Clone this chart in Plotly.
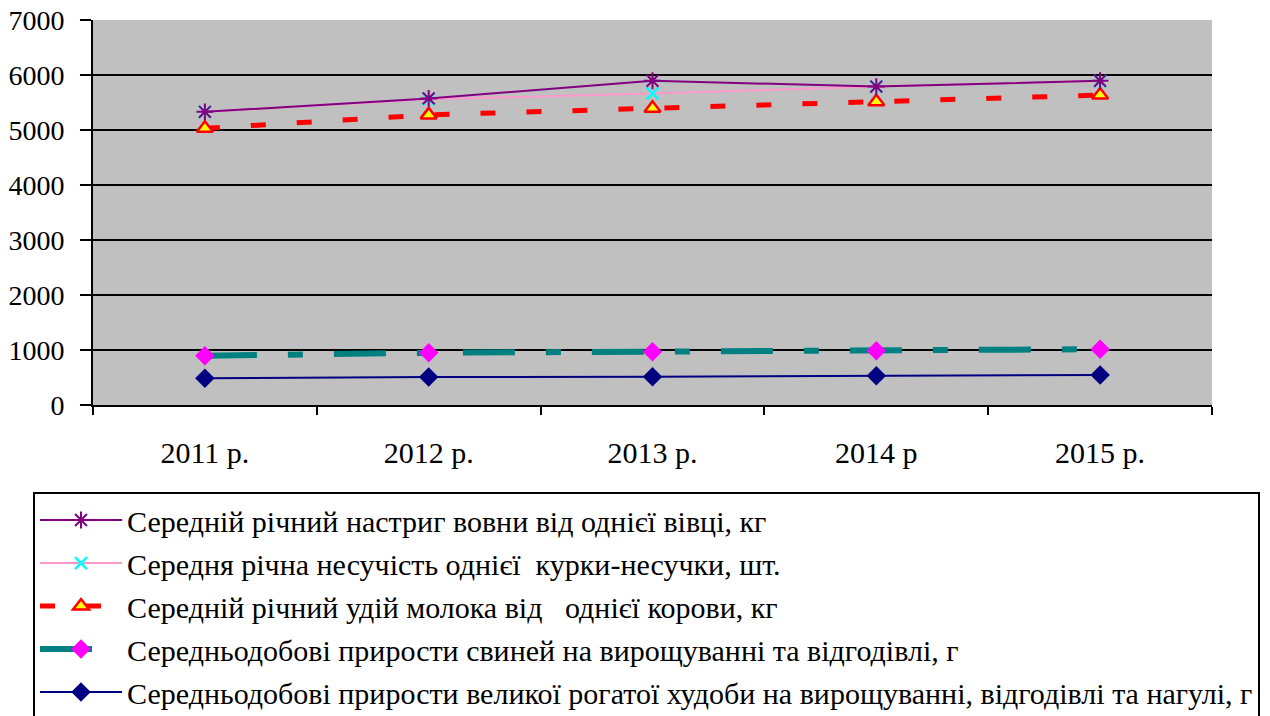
import plotly.graph_objects as go

years = ["2011 р.", "2012 р.", "2013 р.", "2014 р", "2015 р."]

wool = [5330, 5575, 5895, 5790, 5895]
eggs = [5330, 5560, 5665, 5790, 5890]
milk = [5030, 5275, 5395, 5515, 5635]
pigs = [895, 950, 970, 987, 1015]
cattle = [485, 508, 515, 533, 545]

names = [
    "Середній річний настриг вовни від однієї вівці, кг",
    "Середня річна несучість однієї  курки-несучки, шт.",
    "Середній річний удій молока від   однієї корови, кг",
    "Середньодобові прирости свиней на вирощуванні та відгодівлі, г",
    "Середньодобові прирости великої рогатої худоби на вирощуванні, відгодівлі та нагулі, г",
]

fnt = '"Liberation Serif", "Tinos", serif'

fig = go.Figure()

# bottom series first so the upper ones sit on top
fig.add_trace(go.Scatter(
    x=years, y=cattle, name=names[4], mode="lines+markers",
    line=dict(color="#000080", width=2),
    marker=dict(symbol="diamond", size=15, color="#000080"),
    legendrank=5, legendgroup="e"))
fig.add_trace(go.Scatter(
    x=years, y=pigs, name=names[3], mode="lines+markers",
    line=dict(color="#008080", width=6, dash="52px,31px,15px,31px"),
    marker=dict(symbol="diamond", size=15, color="#FF00FF"),
    legendrank=4, legendgroup="d"))
fig.add_trace(go.Scatter(
    x=years, y=milk, name=names[2], mode="lines+markers",
    line=dict(color="#FF0000", width=5, dash="15px,31px"),
    marker=dict(symbol="triangle-up", size=14, color="#FFFF00",
                line=dict(color="#FF0000", width=2.5)),
    legendrank=3, legendgroup="c"))
fig.add_trace(go.Scatter(
    x=years, y=eggs, name=names[1], mode="lines+markers",
    line=dict(color="#FF99CC", width=2),
    marker=dict(symbol="x-thin-open", size=12, color="#00FFFF",
                line=dict(color="#00FFFF", width=2.5)),
    legendrank=2, legendgroup="b"))
fig.add_trace(go.Scatter(
    x=years, y=wool, name=names[0], mode="lines+markers",
    line=dict(color="#800080", width=2),
    marker=dict(symbol="asterisk-open", size=14, color="#800080",
                line=dict(color="#800080", width=2)),
    legendrank=1, legendgroup="a"))

fig.update_layout(
    width=1270, height=716,
    margin=dict(l=93, r=58, t=20, b=311, autoexpand=False),
    paper_bgcolor="white",
    plot_bgcolor="#C0C0C0",
    font=dict(family=fnt, size=28, color="black"),
    showlegend=True,
    legend=dict(
        x=-0.0536, y=-0.226, xanchor="left", yanchor="top",
        bordercolor="black", borderwidth=2,
        font=dict(family=fnt, size=30, color="black"),
        tracegroupgap=1, traceorder="grouped",
        itemwidth=82,
    ),
)
fig.update_xaxes(
    type="category", range=[-0.5, 4.5], automargin=False,
    showline=True, linecolor="black", linewidth=2,
    ticks="outside", tickson="boundaries", ticklen=8, tickwidth=2, tickcolor="black",
    ticklabelstandoff=20, showgrid=False,
    tickfont=dict(family=fnt, size=30, color="black"),
)
fig.update_yaxes(
    range=[0, 7000], dtick=1000, automargin=False,
    showline=True, linecolor="black", linewidth=2,
    ticks="outside", ticklen=11, tickwidth=2, tickcolor="black",
    ticklabelstandoff=10,
    showgrid=True, gridcolor="black", gridwidth=2,
    zeroline=False,
    tickfont=dict(family=fnt, size=28, color="black"),
)

# drop the page's default 8px body margin so the figure sits at the corner
fig.write_html("out.html", config={"displayModeBar": False},
               post_script="document.body.style.margin='0';")
